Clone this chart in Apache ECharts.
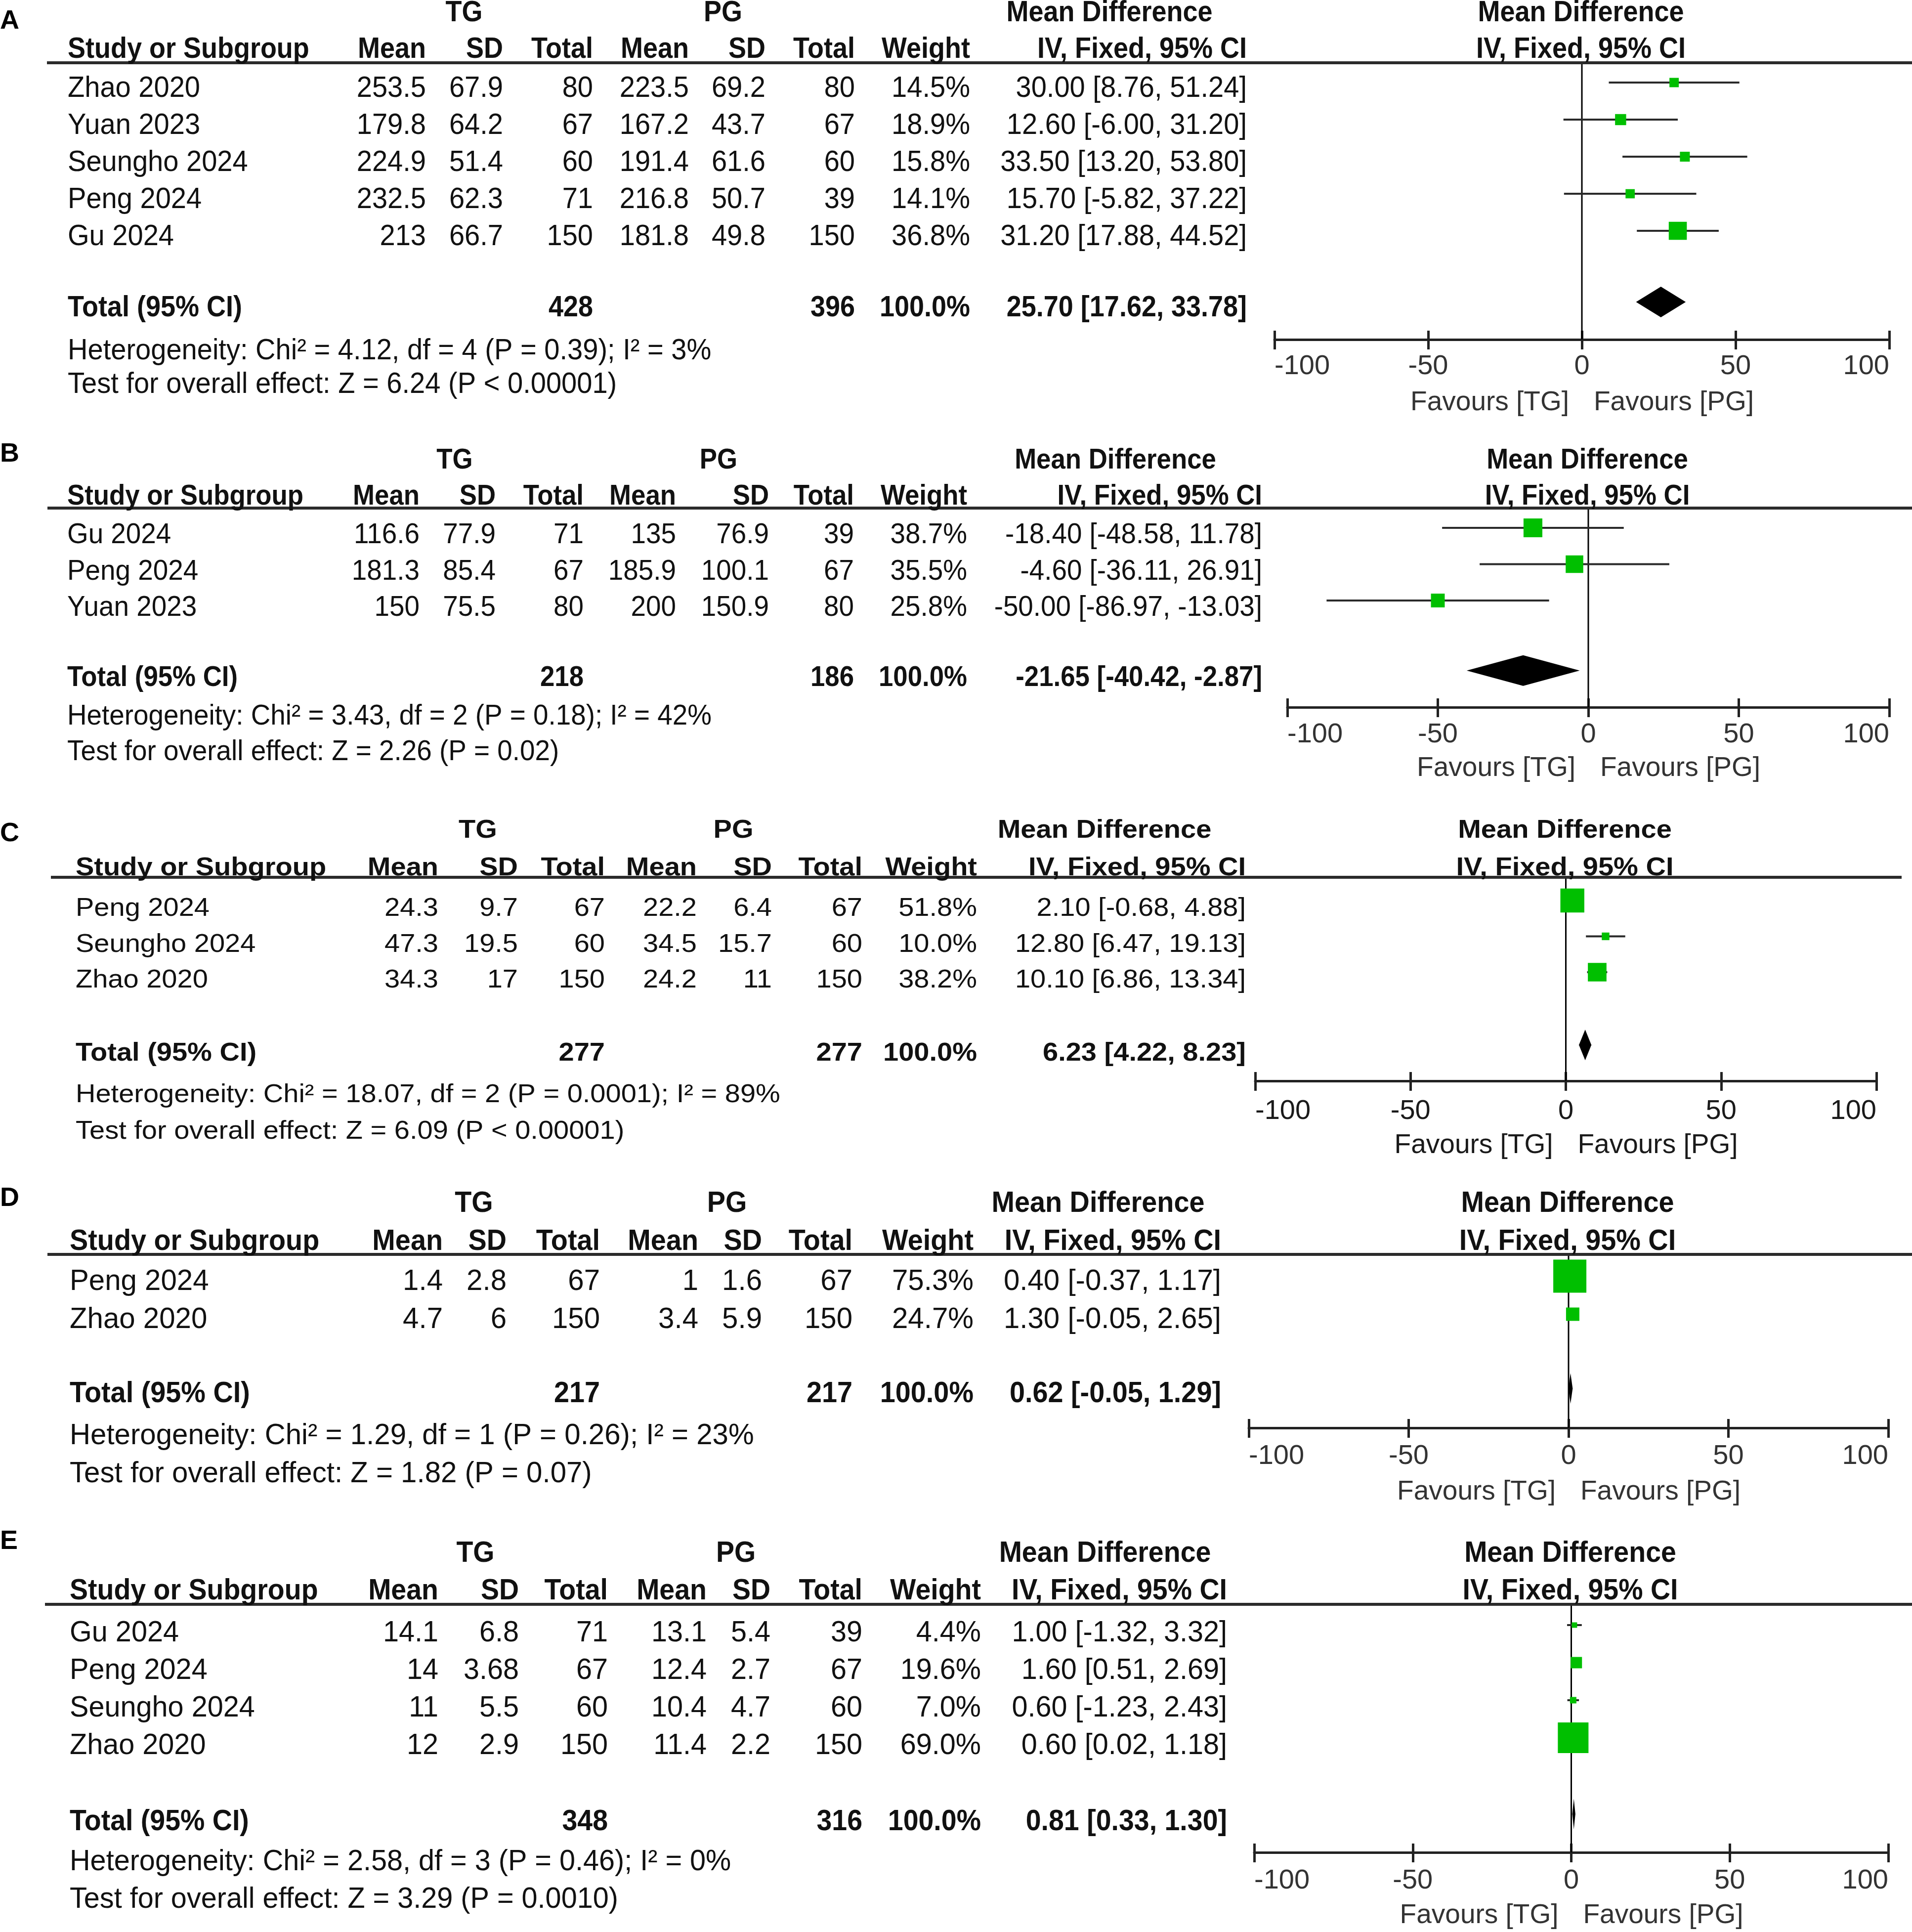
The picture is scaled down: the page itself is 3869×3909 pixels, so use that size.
<!DOCTYPE html>
<html><head><meta charset="utf-8">
<script src="https://cdn.jsdelivr.net/npm/echarts@6/dist/echarts.min.js"></script>
<style>html,body{margin:0;padding:0;background:#fff}#c{width:3869px;height:3909px}</style>
</head><body><div id="c"></div>
<script>
// ---------------- DATA ----------------
// Panel A
const studiesA = ['Zhao 2020','Yuan 2023','Seungho 2024','Peng 2024','Gu 2024'];
const tgMeanA = [253.5,179.8,224.9,232.5,213];
const tgSdA = [67.9,64.2,51.4,62.3,66.7];
const tgNA = [80,67,60,71,150];
const pgMeanA = [223.5,167.2,191.4,216.8,181.8];
const pgSdA = [69.2,43.7,61.6,50.7,49.8];
const pgNA = [80,67,60,39,150];
const weightA = [14.5,18.9,15.8,14.1,36.8];
const mdA = [30.00,12.60,33.50,15.70,31.20];
const loA = [8.76,-6.00,13.20,-5.82,17.88];
const hiA = [51.24,31.20,53.80,37.22,44.52];
const totalNA = [428,396];
const totalMdA = [25.70,17.62,33.78];
const hetA = 'Heterogeneity: Chi\u00b2 = 4.12, df = 4 (P = 0.39); I\u00b2 = 3%';
const testA = 'Test for overall effect: Z = 6.24 (P < 0.00001)';
// Panel B
const studiesB = ['Gu 2024','Peng 2024','Yuan 2023'];
const tgMeanB = [116.6,181.3,150];
const tgSdB = [77.9,85.4,75.5];
const tgNB = [71,67,80];
const pgMeanB = [135,185.9,200];
const pgSdB = [76.9,100.1,150.9];
const pgNB = [39,67,80];
const weightB = [38.7,35.5,25.8];
const mdB = [-18.40,-4.60,-50.00];
const loB = [-48.58,-36.11,-86.97];
const hiB = [11.78,26.91,-13.03];
const totalNB = [218,186];
const totalMdB = [-21.65,-40.42,-2.87];
const hetB = 'Heterogeneity: Chi\u00b2 = 3.43, df = 2 (P = 0.18); I\u00b2 = 42%';
const testB = 'Test for overall effect: Z = 2.26 (P = 0.02)';
// Panel C
const studiesC = ['Peng 2024','Seungho 2024','Zhao 2020'];
const tgMeanC = [24.3,47.3,34.3];
const tgSdC = [9.7,19.5,17];
const tgNC = [67,60,150];
const pgMeanC = [22.2,34.5,24.2];
const pgSdC = [6.4,15.7,11];
const pgNC = [67,60,150];
const weightC = [51.8,10.0,38.2];
const mdC = [2.10,12.80,10.10];
const loC = [-0.68,6.47,6.86];
const hiC = [4.88,19.13,13.34];
const totalNC = [277,277];
const totalMdC = [6.23,4.22,8.23];
const hetC = 'Heterogeneity: Chi\u00b2 = 18.07, df = 2 (P = 0.0001); I\u00b2 = 89%';
const testC = 'Test for overall effect: Z = 6.09 (P < 0.00001)';
// Panel D
const studiesD = ['Peng 2024','Zhao 2020'];
const tgMeanD = [1.4,4.7];
const tgSdD = [2.8,6];
const tgND = [67,150];
const pgMeanD = [1,3.4];
const pgSdD = [1.6,5.9];
const pgND = [67,150];
const weightD = [75.3,24.7];
const mdD = [0.40,1.30];
const loD = [-0.37,-0.05];
const hiD = [1.17,2.65];
const totalND = [217,217];
const totalMdD = [0.62,-0.05,1.29];
const hetD = 'Heterogeneity: Chi\u00b2 = 1.29, df = 1 (P = 0.26); I\u00b2 = 23%';
const testD = 'Test for overall effect: Z = 1.82 (P = 0.07)';
// Panel E
const studiesE = ['Gu 2024','Peng 2024','Seungho 2024','Zhao 2020'];
const tgMeanE = [14.1,14,11,12];
const tgSdE = [6.8,3.68,5.5,2.9];
const tgNE = [71,67,60,150];
const pgMeanE = [13.1,12.4,10.4,11.4];
const pgSdE = [5.4,2.7,4.7,2.2];
const pgNE = [39,67,60,150];
const weightE = [4.4,19.6,7.0,69.0];
const mdE = [1.00,1.60,0.60,0.60];
const loE = [-1.32,0.51,-1.23,0.02];
const hiE = [3.32,2.69,2.43,1.18];
const totalNE = [348,316];
const totalMdE = [0.81,0.33,1.30];
const hetE = 'Heterogeneity: Chi\u00b2 = 2.58, df = 3 (P = 0.46); I\u00b2 = 0%';
const testE = 'Test for overall effect: Z = 3.29 (P = 0.0010)';

const panelLabels = ['A','B','C','D','E'];
const groupHeaders = ['TG','PG','Mean Difference'];
const colHeaders = ['Mean','SD','Total','Mean','SD','Total','Weight','IV, Fixed, 95% CI'];
const studyHeader = 'Study or Subgroup';
const totalLabel = 'Total (95% CI)';
const favours = ['Favours [TG]','Favours [PG]'];
const axisMin = -100, axisMax = 100, axisStep = 50;

// ---------------- LAYOUT ----------------
const LA = {labelY:41, groupY:25, headY:99, lineY:127, lineX0:95, lineX1:3869, y0:167, step:75, totalIdx:5.92, dy:11, hetY:709, testY:777, axisY:687, xMin:2579, xMax:3823, tickY:740, favY:813, studyX:137, cols:[862,1018,1200,1394,1549,1730,1963,2523], tgX:939, pgX:1463, mdX:2245, size:59, sx:0.95, sxB:0.915};
const LB = {labelY:917, groupY:930, headY:1003, lineY:1028, lineX0:96, lineX1:3869, y0:1068, step:73.5, totalIdx:3.93, dy:13, hetY:1448, testY:1520, axisY:1431, xMin:2605, xMax:3823, tickY:1485, favY:1553, studyX:136, cols:[849,1003,1181,1368,1556,1728,1957,2554], tgX:920, pgX:1454, mdX:2257, size:58, sx:0.945, sxB:0.91};
const LC = {labelY:1685, groupY:1679, headY:1755, lineY:1775, lineX0:103, lineX1:3848, y0:1822, step:72.5, totalIdx:4.03, dy:15, hetY:2214, testY:2288, axisY:2187, xMin:2540, xMax:3797, tickY:2247, favY:2316, studyX:153, cols:[887,1048,1224,1410,1562,1745,1977,2521], tgX:967, pgX:1484, mdX:2235, size:52, sx:1.077, sxB:1.077};
const LD = {labelY:2423, groupY:2433, headY:2510, lineY:2538, lineX0:96, lineX1:3869, y0:2582, step:77, totalIdx:2.95, dy:9, hetY:2903, testY:2980, axisY:2889, xMin:2527, xMax:3821, tickY:2945, favY:3017, studyX:141, cols:[896,1025,1214,1413,1542,1725,1970,2471], tgX:959, pgX:1471, mdX:2222, size:60, sx:0.97, sxB:0.93};
const LE = {labelY:3117, groupY:3141, headY:3217, lineY:3246, lineX0:91, lineX1:3869, y0:3288, step:76, totalIdx:5.03, dy:14, hetY:3765, testY:3841, axisY:3748, xMin:2538, xMax:3821, tickY:3804, favY:3874, studyX:141, cols:[887,1050,1230,1430,1559,1745,1985,2483], tgX:962, pgX:1489, mdX:2236, size:60, sx:0.96, sxB:0.925};

const panels = [
  {studies:studiesA, tgMean:tgMeanA, tgSd:tgSdA, tgN:tgNA, pgMean:pgMeanA, pgSd:pgSdA, pgN:pgNA, weight:weightA, md:mdA, lo:loA, hi:hiA, totN:totalNA, totMd:totalMdA, het:hetA, test:testA, L:LA},
  {studies:studiesB, tgMean:tgMeanB, tgSd:tgSdB, tgN:tgNB, pgMean:pgMeanB, pgSd:pgSdB, pgN:pgNB, weight:weightB, md:mdB, lo:loB, hi:hiB, totN:totalNB, totMd:totalMdB, het:hetB, test:testB, L:LB},
  {studies:studiesC, tgMean:tgMeanC, tgSd:tgSdC, tgN:tgNC, pgMean:pgMeanC, pgSd:pgSdC, pgN:pgNC, weight:weightC, md:mdC, lo:loC, hi:hiC, totN:totalNC, totMd:totalMdC, het:hetC, test:testC, L:LC},
  {studies:studiesD, tgMean:tgMeanD, tgSd:tgSdD, tgN:tgND, pgMean:pgMeanD, pgSd:pgSdD, pgN:pgND, weight:weightD, md:mdD, lo:loD, hi:hiD, totN:totalND, totMd:totalMdD, het:hetD, test:testD, L:LD},
  {studies:studiesE, tgMean:tgMeanE, tgSd:tgSdE, tgN:tgNE, pgMean:pgMeanE, pgSd:pgSdE, pgN:pgNE, weight:weightE, md:mdE, lo:loE, hi:hiE, totN:totalNE, totMd:totalMdE, het:hetE, test:testE, L:LE}
];

const FONT = "'Liberation Sans', Arial, Helvetica, sans-serif";
const W = 3869, H = 3909;
const chart = echarts.init(document.getElementById('c'), null, {renderer:'canvas', width:W, height:H});

const f2 = v => v.toFixed(2);
const ciText = (m, l, h) => f2(m) + ' [' + f2(l) + ', ' + f2(h) + ']';

const grids = [], xAxes = [], yAxes = [], series = [], scatterIdx = [];
panels.forEach((p, i) => {
  const L = p.L;
  const yMin = (L.lineY - L.y0) / L.step, yMax = (L.axisY - L.y0) / L.step;
  const axisColor = '#222';
  const labColor = i === 2 ? '#1a1a1a' : '#333';
  grids.push({left:L.xMin, top:L.lineY, width:L.xMax - L.xMin, height:L.axisY - L.lineY, containLabel:false});
  xAxes.push({gridIndex:i, type:'value', min:axisMin, max:axisMax, interval:axisStep, position:'bottom',
    axisLine:{show:true, onZero:false, lineStyle:{color:axisColor, width:5}},
    axisTick:{show:true, length:20, lineStyle:{color:axisColor, width:5}},
    axisLabel:{show:true, margin:L.tickY - L.axisY + 2, verticalAlign:'middle', fontSize:56, fontFamily:FONT, color:labColor, alignMinLabel:'left', alignMaxLabel:'right'},
    splitLine:{show:false}});
  xAxes.push({gridIndex:i, type:'value', min:axisMin, max:axisMax, interval:axisStep, position:'bottom',
    axisLine:{show:false, onZero:false}, axisTick:{show:true, inside:true, length:18, lineStyle:{color:axisColor, width:5}},
    axisLabel:{show:false}, splitLine:{show:false}});
  yAxes.push({gridIndex:i, type:'value', inverse:true, min:yMin, max:yMax, show:false, splitLine:{show:false}});
  const xi = i * 2;
  // zero line
  series.push({type:'line', xAxisIndex:xi, yAxisIndex:i, data:[[0, yMin],[0, yMax]], symbol:'none', silent:true,
    lineStyle:{color:'#000', width:3}, z:1});
  // CI lines
  series.push({type:'custom', xAxisIndex:xi, yAxisIndex:i, silent:true, z:2,
    data:p.studies.map((s, k) => [p.lo[k], p.hi[k], k]),
    renderItem:(params, api) => {
      const a = api.coord([api.value(0), api.value(2)]);
      const b = api.coord([api.value(1), api.value(2)]);
      return {type:'line', shape:{x1:a[0], y1:a[1], x2:b[0], y2:b[1]}, style:{stroke:'#2a2a2a', lineWidth:4}};
    }});
  // squares
  scatterIdx.push(series.length);
  series.push({type:'scatter', xAxisIndex:xi, yAxisIndex:i, silent:true, z:3,
    data:p.studies.map((s, k) => [p.md[k], k, p.weight[k]]),
    symbol:'rect', symbolSize:v => 7.5 + 0.79 * v[2],
    itemStyle:{color:'#00BF00', opacity:1}});
  // pooled diamond
  series.push({type:'custom', xAxisIndex:xi, yAxisIndex:i, silent:true, z:4,
    data:[[p.totMd[1], p.totMd[2], p.totMd[0], L.totalIdx]],
    renderItem:(params, api) => {
      const lo = api.coord([api.value(0), api.value(3)]);
      const hi = api.coord([api.value(1), api.value(3)]);
      const mid = api.coord([api.value(2), api.value(3)]);
      const h = 31;
      return {type:'polygon', shape:{points:[[lo[0], lo[1]], [mid[0], mid[1] - h], [hi[0], hi[1]], [mid[0], mid[1] + h]]}, style:{fill:'#000'}};
    }});
});

chart.setOption({animation:false, backgroundColor:'#fff', grid:grids, xAxis:xAxes, yAxis:yAxes, series:series});

function T(x, y, text, o) {
  const al = o.align || 'left';
  return {type:'text', x:x, y:y + 2, scaleX:o.sx || 1, silent:true, z:20,
    style:{text:String(text), x:0, y:0, fill:o.color || '#111', fontSize:o.size, fontFamily:FONT,
      fontWeight:o.bold ? 'bold' : 'normal', align:al, textAlign:al, verticalAlign:'middle', textVerticalAlign:'middle'}};
}

const g = [];
panels.forEach((p, i) => {
  const L = p.L;
  const si = scatterIdx[i];
  const px = (x, y) => chart.convertToPixel({seriesIndex:si}, [x, y]);
  const zeroX = px(0, 0)[0];
  const rowY = k => px(0, k)[1] + L.dy;
  const R = {size:L.size, sx:L.sx};
  const B = {size:L.size, sx:L.sxB, bold:true};
  const favColor = i === 2 ? '#1a1a1a' : '#333';
  // panel label
  g.push(T(0, L.labelY, panelLabels[i], {size:54, bold:true, color:'#000'}));
  // group headers
  g.push(T(L.tgX, L.groupY, groupHeaders[0], Object.assign({align:'center'}, B)));
  g.push(T(L.pgX, L.groupY, groupHeaders[1], Object.assign({align:'center'}, B)));
  g.push(T(L.mdX, L.groupY, groupHeaders[2], Object.assign({align:'center'}, B)));
  g.push(T(zeroX - 2, L.groupY, groupHeaders[2], Object.assign({align:'center'}, B)));
  // column headers
  g.push(T(L.studyX, L.headY, studyHeader, B));
  colHeaders.forEach((h, c) => g.push(T(L.cols[c], L.headY, h, Object.assign({align:'right'}, B))));
  g.push(T(zeroX - 2, L.headY, colHeaders[7], Object.assign({align:'center'}, B)));
  // header rule
  g.push({type:'line', silent:true, z:15, shape:{x1:L.lineX0, y1:L.lineY, x2:L.lineX1, y2:L.lineY}, style:{stroke:'#2b2b2b', lineWidth:6}});
  // study rows
  p.studies.forEach((s, k) => {
    const y = rowY(k);
    const vals = [p.tgMean[k], p.tgSd[k], p.tgN[k], p.pgMean[k], p.pgSd[k], p.pgN[k], p.weight[k].toFixed(1) + '%', ciText(p.md[k], p.lo[k], p.hi[k])];
    g.push(T(L.studyX, y, s, R));
    vals.forEach((v, c) => g.push(T(L.cols[c], y, v, Object.assign({align:'right'}, R))));
  });
  // total row
  const ty = rowY(L.totalIdx);
  g.push(T(L.studyX, ty, totalLabel, B));
  g.push(T(L.cols[2], ty, p.totN[0], Object.assign({align:'right'}, B)));
  g.push(T(L.cols[5], ty, p.totN[1], Object.assign({align:'right'}, B)));
  g.push(T(L.cols[6], ty, '100.0%', Object.assign({align:'right'}, B)));
  g.push(T(L.cols[7], ty, ciText(p.totMd[0], p.totMd[1], p.totMd[2]), Object.assign({align:'right'}, B)));
  // footnotes
  g.push(T(L.studyX, L.hetY, p.het, R));
  g.push(T(L.studyX, L.testY, p.test, R));
  // favours labels
  g.push(T(zeroX - 26, L.favY, favours[0], {size:55, align:'right', color:favColor}));
  g.push(T(zeroX + 24, L.favY, favours[1], {size:55, align:'left', color:favColor}));
});
chart.setOption({graphic:{elements:g}});
</script>
</body></html>
